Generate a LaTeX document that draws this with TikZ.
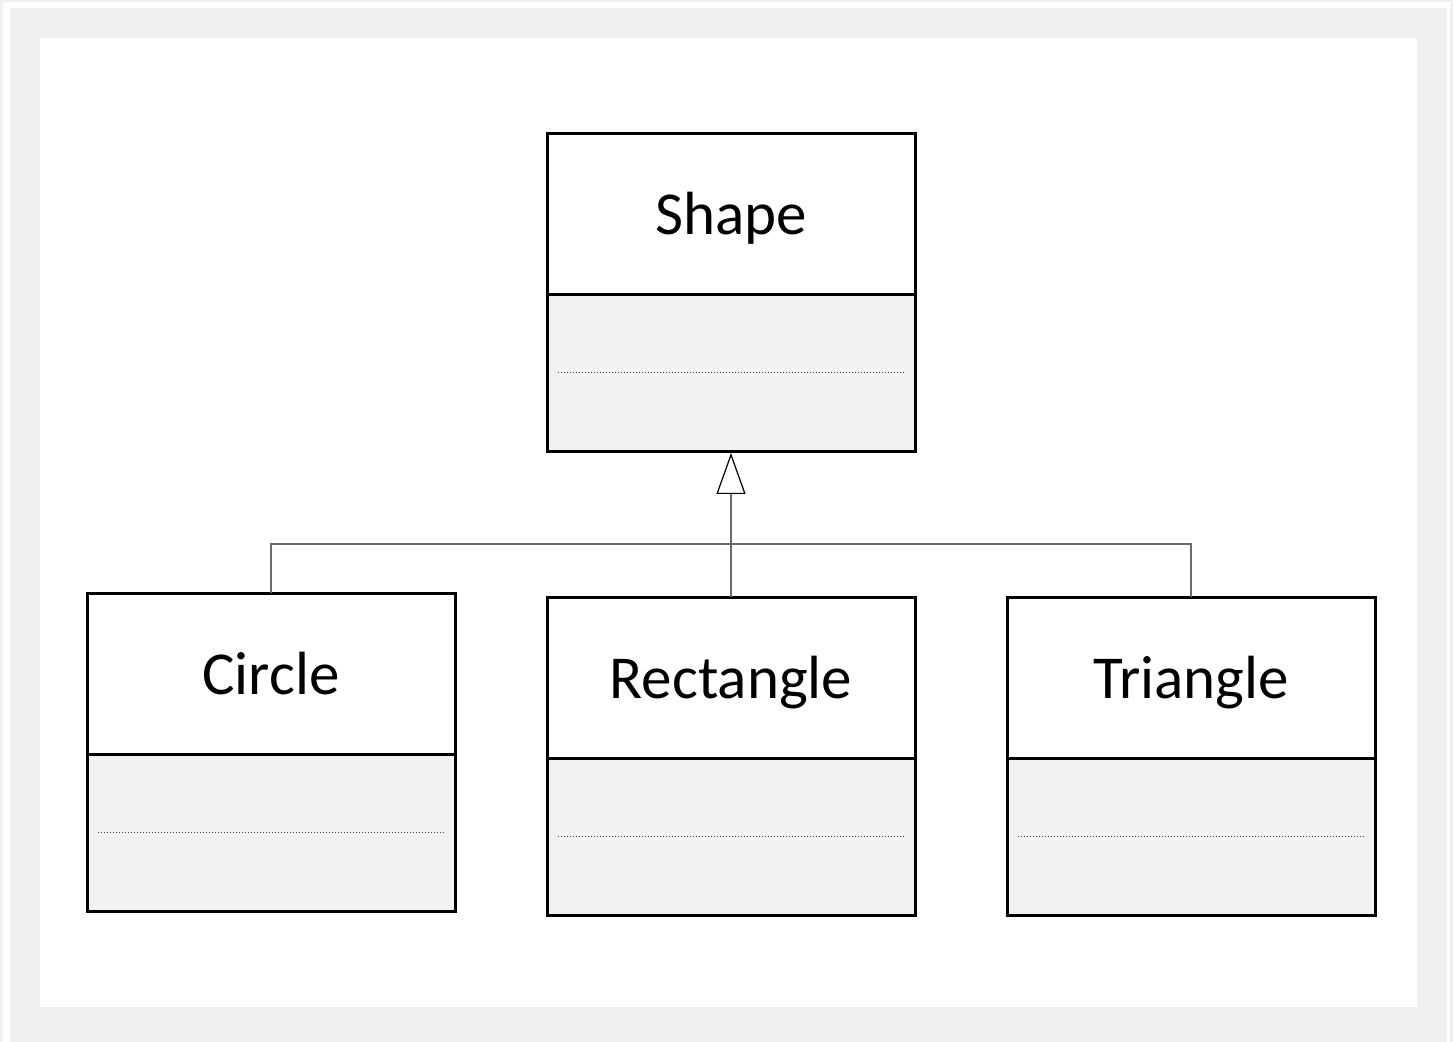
\documentclass[tikz,border=0pt]{standalone}
\usepackage{fontspec}
\setmainfont{Carlito}
\usetikzlibrary{positioning,arrows.meta}
\definecolor{framegray}{HTML}{F0F0F0}
\definecolor{bodygray}{HTML}{F2F2F2}
\definecolor{linkgray}{HTML}{6A6A6A}
\tikzset{
  classname/.style = {draw, line width=1.5pt, fill=white, minimum width=184pt,
                      minimum height=80.5pt, inner sep=0pt, outer sep=0pt,
                      text depth=1pt, font=\fontsize{30.5}{36}\selectfont},
  classbody/.style = {draw, line width=1.5pt, fill=bodygray, minimum width=184pt,
                      minimum height=78.5pt, inner sep=0pt, outer sep=0pt},
  sep/.style       = {densely dotted, line width=0.5pt, black!75},
  link/.style      = {draw=linkgray, line width=0.7pt},
  inherit/.style   = {link, shorten >=0.75pt,
                      -{Triangle[open, length=20.5pt, width=14.5pt, color=black, line width=0.6pt]}},
}

\begin{document}
\begin{tikzpicture}[x=0.5pt, y=-0.5pt]
  \useasboundingbox (0,0) rectangle (1453,1042);
  % page frame
  \fill[framegray] (0,0) rectangle (1453,1042);
  \fill[white] (3,2) rectangle (1450,1042);
  \fill[framegray] (10,8) rectangle (1447,1042);
  \fill[white] (40,38) rectangle (1417,1007);

  % base class
  \node[classname] (shape) at (731,214) {Shape};
  \node[classbody, below=0pt of shape] (shapeb) {};

  % subclasses
  \node[classname] (circle) at (271,674) {Circle};
  \node[classbody, below=0pt of circle] (circleb) {};
  \node[classname] (rect) at (731,678) {Rectangle};
  \node[classbody, below=0pt of rect] (rectb) {};
  \node[classname] (tri) at (1191,678) {Triangle};
  \node[classbody, below=0pt of tri] (trib) {};

  % empty compartments
  \foreach \b in {shapeb, circleb, rectb, trib}
    \draw[sep] ([xshift=5.5pt]\b.west) -- ([xshift=-5.5pt]\b.east);

  % generalisation
  \coordinate (bus) at (731,544);
  \draw[link] (circle.north) |- (bus) -| (tri.north);
  \draw[inherit] (rect.north) -- (shapeb.south);
\end{tikzpicture}
\end{document}
